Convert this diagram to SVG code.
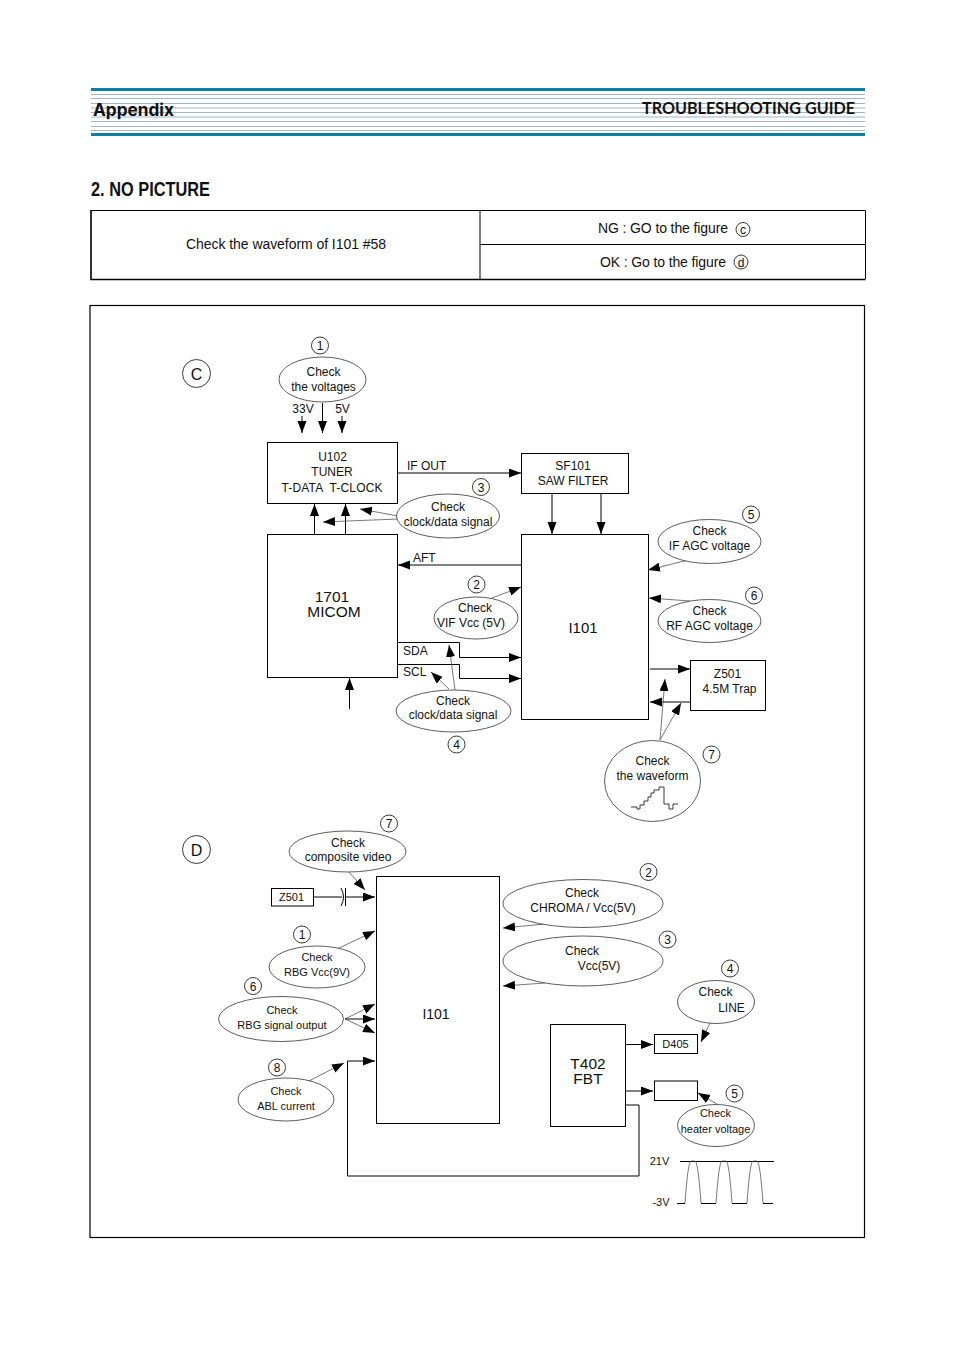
<svg xmlns="http://www.w3.org/2000/svg" width="954" height="1350" viewBox="0 0 954 1350">
<style>
text{font-family:"Liberation Sans",Arial,sans-serif;fill:#111;text-anchor:middle}
.t{font-size:12px}
.s{font-size:11px}
.l{text-anchor:start;font-size:12px}
.b,.e{fill:#fff;stroke:#000}
.b{stroke-width:1}
.e{stroke:#333;stroke-width:.8}
.c{fill:none;stroke:#000;stroke-width:1}
.g{fill:none;stroke:#555;stroke-width:.8}
.w{fill:none;stroke:#222;stroke-width:.9}
.a{marker-end:url(#h)}
.m{stroke:#9eb6c6;stroke-width:1}
.n{fill:#fff;stroke:#222;stroke-width:.9}
</style>
<defs>
<marker id="h" markerUnits="userSpaceOnUse" markerWidth="14" markerHeight="10" refX="12" refY="4.500" orient="auto"><path d="M0,0L12,4.500L0,9z" fill="#000"/></marker>
</defs>
<rect width="954" height="1350" fill="#fff"/>

<g id="page-header">
<g class="m">
<path d="M91 94.500H865M91 98.500H865M91 103.500H865M91 108H865M91 112.500H865M91 117H865M91 121.500H865M91 126.500H865M91 130.500H865"/>
</g>
<rect x="91" y="88" width="774" height="3" fill="#0a7fa3"/>
<rect x="91" y="133" width="774" height="3" fill="#0a7fa3"/>
<text x="93" y="116" textLength="81" lengthAdjust="spacingAndGlyphs" style="text-anchor:start;font-family:Inter,'Liberation Sans',sans-serif;font-size:17px;font-weight:700">Appendix</text>
<text x="642" y="114" textLength="213" lengthAdjust="spacingAndGlyphs" style="text-anchor:start;font-family:Lato,'Liberation Sans',sans-serif;font-size:17px;font-weight:700">TROUBLESHOOTING GUIDE</text>
</g>

<text x="91" y="196" style="text-anchor:start;font-size:20px;font-weight:700" textLength="119" lengthAdjust="spacingAndGlyphs">2. NO PICTURE</text>

<g id="decision-table">
<path d="M91 210.500H865.500V279M480 210.500V279M480 244.500H865.500" class="c"/>
<path d="M91 210V279.500H865.500" fill="none" stroke="#000" stroke-width="1.600"/>
<text x="286" y="249" textLength="200" style="font-size:14px">Check the waveform of I101 #58</text>
<text x="663" y="233" textLength="130" style="font-size:14px">NG : GO to the figure</text>
<circle cx="743" cy="229.500" r="7" class="n"/><text x="743" y="233.500" style="font-size:12px">c</text>
<text x="663" y="267" textLength="126" style="font-size:14px">OK : Go to the figure</text>
<circle cx="741" cy="262" r="7" class="n"/><text x="741" y="266.500" style="font-size:12px">d</text>
</g>

<rect id="frame" x="90" y="305.500" width="774.500" height="932" fill="none" stroke="#000" stroke-width="1.200"/>

<g id="connectors">
<!-- section C wiring -->
<path class="c a" d="M302 416V433"/>
<path class="c a" d="M322.500 403V433"/>
<path class="c a" d="M342 416V433"/>
<path class="c a" d="M398 473H521"/>
<path class="c a" d="M314.500 534V504"/>
<path class="c a" d="M345.500 534V504"/>
<path class="g a" d="M398 516L360 509"/>
<path class="g a" d="M398 519L323 522"/>
<path class="c a" d="M552 494V534"/>
<path class="c a" d="M601 494V534"/>
<path class="c a" d="M521 565H398"/>
<path class="g a" d="M492 598L521 587"/>
<path class="c" d="M398 642.500H459.500V657.500"/>
<path class="c a" d="M459.500 657.500H521"/>
<path class="c" d="M398 664.500H459.500V678.500"/>
<path class="c a" d="M459.500 678.500H521"/>
<path class="g a" d="M455 690L449 645"/>
<path class="g a" d="M449 689L431 672"/>
<path class="c a" d="M349.500 709V678"/>
<path class="g a" d="M688 560L648 570"/>
<path class="g a" d="M690 601L649 598"/>
<path class="c a" d="M650 669H690"/>
<path class="c a" d="M690 702H650"/>
<path class="g a" d="M660 740L665 679"/>
<path class="g a" d="M660 740L681 703"/>
<!-- section D wiring -->
<path class="g a" d="M348 871L365 890"/>
<path class="c" d="M314 897H342"/>
<path class="c" d="M341 888Q346 897 341 906"/>
<path class="c" d="M345.500 888V906"/>
<path class="c a" d="M345.500 897H375"/>
<path class="g a" d="M337 949L375 931"/>
<path class="g a" d="M345 1019L375 1004"/>
<path class="c a" d="M345 1019H375"/>
<path class="g a" d="M345 1019L375 1033"/>
<path class="g a" d="M307 1082L344 1063"/>
<path class="c a" d="M626 1105H639V1176H347.500V1061H375"/>
<path class="g a" d="M545 924L503 928"/>
<path class="g a" d="M545 983L503 986"/>
<path class="g a" d="M710 1023L701 1042"/>
<path class="c a" d="M626 1044.500H653"/>
<path class="c a" d="M626 1091H653"/>
<path class="g a" d="M717 1104L698 1093"/>
</g>

<g id="label-c"><circle cx="196.500" cy="373.500" r="14" class="n"/><text x="196.500" y="380" style="font-size:16px">C</text></g>
<g id="label-d"><circle cx="196.500" cy="849.500" r="14" class="n"/><text x="196.500" y="856" style="font-size:16px">D</text></g>

<g id="check-voltages">
<circle cx="320" cy="345.500" r="8.500" class="n"/><text x="320" y="350" class="t">1</text>
<ellipse cx="322.500" cy="379.500" rx="43.500" ry="22.500" class="e"/>
<text x="323.500" y="376" class="t">Check</text><text x="323.500" y="391" class="t">the voltages</text>
<text x="303" y="413" class="t">33V</text><text x="342.500" y="413" class="t">5V</text>
</g>
<g id="u102">
<rect x="267.500" y="442.500" width="130" height="61" class="b"/>
<text x="332.500" y="461" class="t">U102</text><text x="332" y="476" class="t">TUNER</text><text x="332" y="492" class="t" style="white-space:pre" textLength="101">T-DATA  T-CLOCK</text>
</g>
<text x="407" y="470" class="l">IF OUT</text>
<g id="sf101">
<rect x="521.500" y="453.500" width="107" height="40" class="b"/>
<text x="573" y="470" class="t">SF101</text><text x="573" y="485" class="t">SAW FILTER</text>
</g>
<g id="check-clock-upper">
<circle cx="481" cy="487" r="8.500" class="n"/><text x="481" y="491.500" class="t">3</text>
<ellipse cx="448" cy="516" rx="51.500" ry="22" class="e"/>
<text x="448" y="511" class="t">Check</text><text x="448" y="526" class="t">clock/data signal</text>
</g>
<g id="micom">
<rect x="267.500" y="534.500" width="130" height="143" class="b"/>
<text x="332" y="601.500" style="font-size:15.500px">1701</text><text x="334" y="617" style="font-size:15.500px">MICOM</text>
</g>
<text x="413" y="562" class="l">AFT</text>
<g id="i101-c">
<rect x="521.500" y="534.500" width="127" height="185" class="b"/>
<text x="583" y="633" style="font-size:15px">I101</text>
</g>
<g id="check-vif">
<circle cx="476.500" cy="584.500" r="8.500" class="n"/><text x="476.500" y="589" class="t">2</text>
<ellipse cx="476" cy="618" rx="42" ry="21" class="e"/>
<text x="475" y="612" class="t">Check</text><text x="471" y="627" class="t">VIF Vcc (5V)</text>
</g>
<text x="403" y="655" class="l">SDA</text>
<text x="403" y="676" class="l">SCL</text>
<g id="check-clock-lower">
<ellipse cx="453.500" cy="711" rx="57.500" ry="21" class="e"/>
<text x="453" y="705" class="t">Check</text><text x="453" y="719" class="t">clock/data signal</text>
<circle cx="456.500" cy="744.500" r="8.500" class="n"/><text x="456.500" y="749" class="t">4</text>
</g>
<g id="check-if-agc">
<circle cx="751" cy="514.500" r="8.500" class="n"/><text x="751" y="519" class="t">5</text>
<ellipse cx="709.500" cy="541.500" rx="51.500" ry="22" class="e"/>
<text x="709.500" y="535" class="t">Check</text><text x="709.500" y="550" class="t">IF AGC voltage</text>
</g>
<g id="check-rf-agc">
<circle cx="754" cy="595.500" r="8.500" class="n"/><text x="754" y="600" class="t">6</text>
<ellipse cx="709.500" cy="621" rx="51.500" ry="21.500" class="e"/>
<text x="709.500" y="615" class="t">Check</text><text x="709.500" y="630" class="t">RF AGC voltage</text>
</g>
<g id="z501-trap">
<rect x="690.500" y="660.500" width="75" height="50" class="b"/>
<text x="727.500" y="678" class="t">Z501</text><text x="729.500" y="693" class="t">4.5M Trap</text>
</g>
<g id="check-waveform">
<ellipse cx="652.500" cy="781" rx="48" ry="40.500" class="e"/>
<circle cx="711.500" cy="754.500" r="8.500" class="n"/><text x="711.500" y="759" class="t">7</text>
<text x="652.500" y="765" class="t">Check</text><text x="652.500" y="780" class="t">the waveform</text>
<path class="w" d="M631 807H637V809H640V805H644V801H648V797H651V793H654V790H659V787H664V804H669V809H673V804H678"/>
</g>

<g id="check-composite">
<circle cx="389" cy="823.500" r="8.500" class="n"/><text x="389" y="828" class="t">7</text>
<ellipse cx="347.500" cy="851.500" rx="58.500" ry="20.500" class="e"/>
<text x="348" y="847" class="t">Check</text><text x="348" y="861" class="t">composite video</text>
</g>
<g id="z501"><rect x="271.500" y="888.500" width="42" height="17.500" class="b"/><text x="291.500" y="901" class="s">Z501</text></g>
<g id="i101-d"><rect x="376.500" y="876.500" width="123" height="247" class="b"/><text x="436" y="1019" style="font-size:14px">I101</text></g>
<g id="check-rbg-vcc">
<circle cx="302" cy="934.500" r="8.500" class="n"/><text x="302" y="939" class="t">1</text>
<ellipse cx="317" cy="967" rx="48" ry="21" class="e"/>
<text x="317" y="961" class="s">Check</text><text x="317" y="976" class="s">RBG Vcc(9V)</text>
</g>
<g id="check-rbg-out">
<circle cx="253" cy="986" r="8.500" class="n"/><text x="253" y="990.500" class="t">6</text>
<ellipse cx="281" cy="1019" rx="62.500" ry="22.500" class="e"/>
<text x="282" y="1014" class="s">Check</text><text x="282" y="1029" class="s">RBG signal output</text>
</g>
<g id="check-abl">
<circle cx="277" cy="1067.500" r="8.500" class="n"/><text x="277" y="1072" class="t">8</text>
<ellipse cx="286" cy="1099.500" rx="48" ry="21.500" class="e"/>
<text x="286" y="1095" class="s">Check</text><text x="286" y="1110" class="s">ABL current</text>
</g>
<g id="check-chroma">
<circle cx="648.500" cy="872" r="8.500" class="n"/><text x="648.500" y="876.500" class="t">2</text>
<ellipse cx="583" cy="903.500" rx="80" ry="24" class="e"/>
<text x="582" y="897" class="t">Check</text><text x="583" y="912" class="t">CHROMA / Vcc(5V)</text>
</g>
<g id="check-vcc">
<circle cx="667.500" cy="939.500" r="8.500" class="n"/><text x="667.500" y="944" class="t">3</text>
<ellipse cx="583" cy="961" rx="80" ry="25" class="e"/>
<text x="582" y="955" class="t">Check</text><text x="599" y="970" class="t">Vcc(5V)</text>
</g>
<g id="check-line">
<circle cx="730" cy="968.500" r="8.500" class="n"/><text x="730" y="973" class="t">4</text>
<ellipse cx="716" cy="1002" rx="38.500" ry="21.500" class="e"/>
<text x="715.500" y="996" class="t">Check</text><text x="731.500" y="1012" class="t">LINE</text>
</g>
<g id="t402"><rect x="550.500" y="1024.500" width="75" height="102" class="b"/><text x="588" y="1069" style="font-size:15.500px">T402</text><text x="588" y="1084" style="font-size:15.500px">FBT</text></g>
<g id="d405"><rect x="654.500" y="1034.500" width="43" height="19" class="b"/><text x="675.500" y="1048" class="s">D405</text></g>
<g id="heater-box"><rect x="654.500" y="1081" width="43" height="19.500" class="b"/></g>
<g id="check-heater">
<circle cx="734.500" cy="1093.500" r="8.500" class="n"/><text x="734.500" y="1098" class="t">5</text>
<ellipse cx="716" cy="1125.500" rx="38.500" ry="21" class="e"/>
<text x="715.500" y="1117" class="s">Check</text><text x="715.500" y="1133" class="s">heater voltage</text>
</g>
<g id="heater-waveform">
<text x="659.500" y="1165" class="s">21V</text><text x="661" y="1206" class="s">-3V</text>
<path class="c" d="M680 1161.500H774"/>
<path class="c" d="M677 1203.500H685M701 1203.500H716M732 1203.500H747M763 1203.500H773"/>
<path class="g" d="M685 1203Q688 1161 691 1161H695Q698 1161 701 1203M716 1203Q719 1161 722 1161H726Q729 1161 732 1203M747 1203Q750 1161 753 1161H757Q760 1161 763 1203"/>
</g>
</svg>
